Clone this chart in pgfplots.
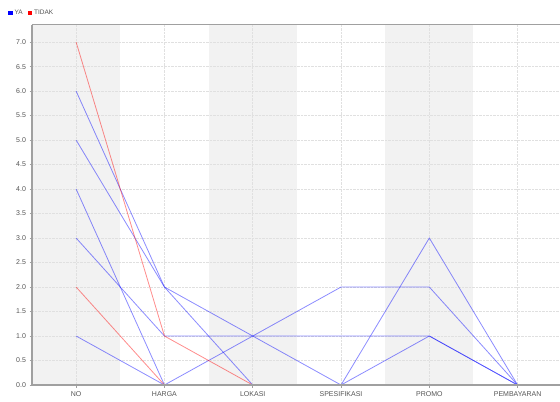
\documentclass[border=0pt]{standalone}
\usepackage{pgfplots}
\pgfplotsset{compat=1.18}
\usepackage{fontspec}
\setmainfont{Liberation Sans}
\usetikzlibrary{calc}
\definecolor{band}{HTML}{F2F2F2}
\definecolor{gridc}{HTML}{E0E0E0}
\definecolor{axc}{HTML}{A0A0A0}
\definecolor{labc}{HTML}{555555}
\begin{document}
\begin{tikzpicture}
\begin{axis}[
  name=ax,
  set layers,
  scale only axis,
  width=528pt, height=360pt,
  xmin=-0.5, xmax=5.48,
  ymin=0, ymax=7.35,
  axis x line=box, axis y line=left,
  y axis line style={-},
  axis line style={color=axc, line width=1pt},
  xtick={0,1,2,3,4,5},
  xticklabels={NO,HARGA,LOKASI,SPESIFIKASI,PROMO,PEMBAYARAN},
  ytick={0,0.5,...,7.0},
  yticklabel style={/pgf/number format/.cd, fixed, fixed zerofill, precision=1},
  /pgf/number format/assume math mode=true,
  ticklabel style={font=\fontsize{7}{8}\selectfont, color=labc},
  xticklabel style={yshift=-1pt},
  tick style={color=axc, line width=0.5pt},
  tick align=outside,
  major tick length=2.5pt,
  xtick pos=bottom, ytick pos=left,
  grid=major,
  major grid style={densely dotted, color=gridc, line width=0.5pt},
  legend style={at={(axis description cs:0,1)}, anchor=south west, xshift=-24pt, yshift=7pt,
    draw=none, fill=none, font=\fontsize{6.5}{7}\selectfont, text=labc, legend columns=2,
    /tikz/every even column/.append style={column sep=3pt}, inner sep=0pt},
  legend cell align=left,
  legend image code/.code={\fill[#1, draw=none] (0pt,-2.2pt) rectangle (4.4pt,2.2pt);},
]
% background category bands
\addplot[fill=band, draw=none, forget plot, on layer=axis background] coordinates {(-0.5,7.35) (0.5,7.35)} \closedcycle;
\addplot[fill=band, draw=none, forget plot, on layer=axis background] coordinates {(1.5,7.35) (2.5,7.35)} \closedcycle;
\addplot[fill=band, draw=none, forget plot, on layer=axis background] coordinates {(3.5,7.35) (4.5,7.35)} \closedcycle;

\addlegendimage{fill=blue}
\addlegendentry{YA}
\addlegendimage{fill=red}
\addlegendentry{TIDAK}

% YA series
\addplot[blue, draw opacity=0.45, line width=0.8pt, forget plot] coordinates {(0,6) (1,2) (2,1) (3,0) (4,3) (5,0)};
\addplot[blue, draw opacity=0.45, line width=0.8pt, forget plot] coordinates {(0,5) (1,2) (2,0) (3,0) (4,1) (5,0)};
\addplot[blue, draw opacity=0.45, line width=0.8pt, forget plot] coordinates {(0,4) (1,0) (2,1) (3,2) (4,2) (5,0)};
\addplot[blue, draw opacity=0.45, line width=0.8pt, forget plot] coordinates {(0,3) (1,1) (2,1) (3,1) (4,1) (5,0)};
\addplot[blue, draw opacity=0.45, line width=0.8pt, forget plot] coordinates {(0,1) (1,0) (2,0) (3,0) (4,0) (5,0)};
% TIDAK series
\addplot[red, draw opacity=0.45, line width=0.8pt, forget plot] coordinates {(0,7) (1,1) (2,0) (3,0) (4,0) (5,0)};
\addplot[red, draw opacity=0.45, line width=0.8pt, forget plot] coordinates {(0,2) (1,0) (2,0) (3,0) (4,0) (5,0)};
% bottom plot outline, drawn over the zero segments as in the reference
\draw[axc, line width=1.8pt] (rel axis cs:0,0) -- (rel axis cs:1,0);
\end{axis}
\pgfresetboundingbox
\path ($(ax.south west)+(-32pt,-16pt)$) rectangle ($(ax.north east)+(0pt,25pt)$);
\end{tikzpicture}
\end{document}
